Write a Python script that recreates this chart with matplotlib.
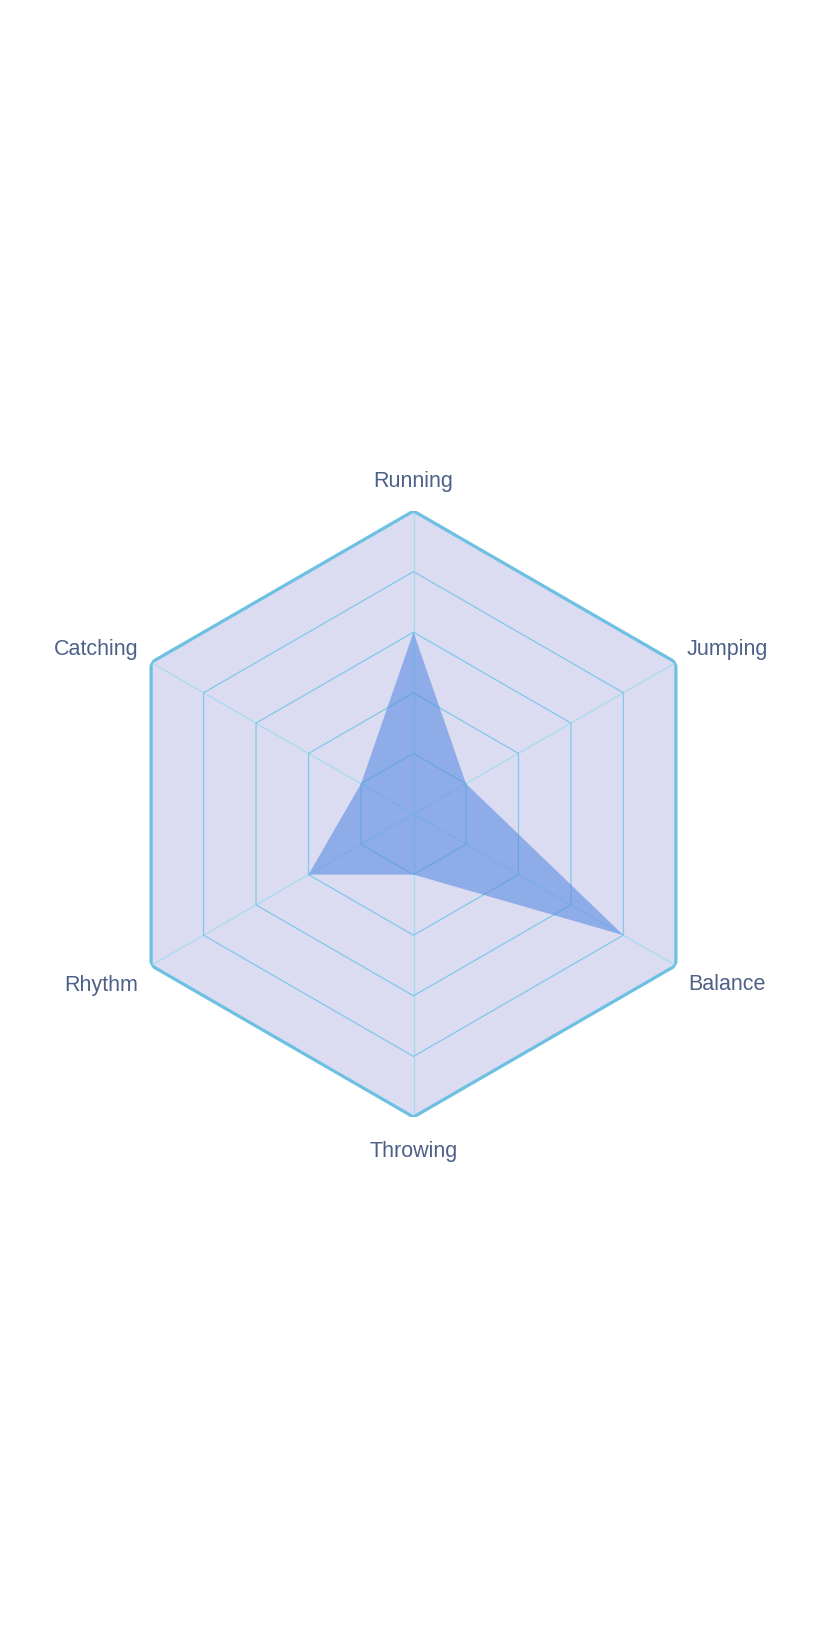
import numpy as np
import matplotlib
matplotlib.use("Agg")
import matplotlib.pyplot as plt

categories = ["Running", "Jumping", "Balance", "Throwing", "Rhythm", "Catching"]
values = [3, 1, 4, 1, 2, 1]
ring_levels = [1, 2, 3, 4, 5]
r_max = 5

# label placement (offset pixels from outer vertex), alignment
label_offsets = {
    "Running": (0, 25, "center"),
    "Jumping": (11, 8, "left"),
    "Balance": (12, -24, "left"),
    "Throwing": (0, -39, "center"),
    "Rhythm": (-13, -24, "right"),
    "Catching": (-13, 9, "right"),
}

W, H = 828, 1640
fig = plt.figure(figsize=(W / 100, H / 100), dpi=100)
cx, cy, R = 413.5, 825, 303
ax = fig.add_axes([(cx - R) / W, (cy - R) / H, 2 * R / W, 2 * R / H], projection="polar")
ax.set_theta_offset(np.pi / 2)
ax.set_theta_direction(-1)
ax.set_ylim(0, r_max)
ax.grid(False)
ax.spines["polar"].set_visible(False)
ax.set_xticks([])
ax.set_yticks([])
ax.patch.set_alpha(0)

n = len(categories)
theta = np.arange(n) * 2 * np.pi / n
theta_closed = np.append(theta, theta[0])

# background hexagon
ax.fill(theta, [r_max] * n, color="#DBDBF1", zorder=0, lw=0)

# spokes
for t in theta:
    ax.plot([t, t], [0, r_max], color="#A6DCF0", lw=0.9, zorder=1)

# rings
for lvl in ring_levels:
    if lvl == r_max:
        ax.fill(theta, [lvl] * n, fill=False, edgecolor="#6CC0E2", lw=2.3, zorder=3,
                joinstyle="miter")
    else:
        ax.fill(theta, [lvl] * n, fill=False, edgecolor="#80C9E8", lw=0.9, zorder=1)

# data
ax.fill(theta, values, color="#5C8EE1", alpha=0.6, lw=0, zorder=2)

for t, lab in zip(theta, categories):
    dx, dy, ha = label_offsets[lab]
    ax.annotate(lab, xy=(t, r_max), xytext=(dx, dy), textcoords="offset pixels",
                ha=ha, va="baseline", fontsize=15.5, color="#4D6088",
                family=["Liberation Sans", "DejaVu Sans"], annotation_clip=False)

fig.savefig("out.png", dpi=100, facecolor="white")
